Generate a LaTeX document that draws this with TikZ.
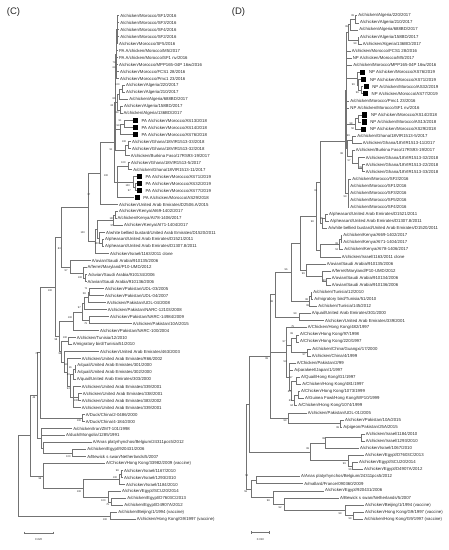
\documentclass[tikz,border=0pt]{standalone}
\usepackage{fontspec}
\setmainfont{Liberation Sans}
\newcommand\leaffont{\fontsize{4.3}{5}\selectfont}
\newcommand\bootfont{\fontsize{2.6}{3}\selectfont}
\definecolor{linec}{gray}{0.45}
\definecolor{txtc}{gray}{0.15}
\tikzset{
  br/.style={draw=linec, line width=0.45pt},
  leaf/.style={anchor=west, inner xsep=0.9pt, inner ysep=0pt, font=\leaffont, text=txtc},
  sqr/.style={fill=black, draw=none, minimum size=5.2pt, inner sep=0pt, anchor=west},
  sqtext/.style={anchor=west, inner xsep=0pt, inner ysep=0pt, font=\leaffont, text=txtc},
  boot/.style={font=\bootfont, inner sep=0pt, text=txtc},
  panel/.style={font=\fontsize{9.5}{10}\selectfont, anchor=west, inner sep=0pt, text=txtc},
  scalelab/.style={font=\fontsize{2.8}{3}\selectfont, inner sep=0pt, text=txtc},
}
\newcounter{bvc}
\newcommand\lfn[4]{\node[leaf] (#1) at (#2,#3) {#4};}
\newcommand\sqn[4]{\node[sqr] (#1) at (#2,#3) {}; \node[sqtext] (#1t) at ([xshift=3.2pt]#1.east) {#4};}
\newcommand\edg[2]{\foreach \cc in {#2}{\draw[br] (#1) |- (\cc);}}
\newcommand\bv[3]{\stepcounter{bvc}\node[boot] (bv\thebvc) at (#1,#2) {#3};}
\begin{document}
\begin{tikzpicture}[x=1pt,y=-1pt]
\useasboundingbox (0,0) rectangle (449,550);
\node[panel] (titC) at (6.7,11.7) {(C)};
\node[panel] (titD) at (231.7,11.7) {(D)};
% ================= LEFT TREE (C) =================
\begin{scope}[yshift=-15.7pt, y=-7pt]
\lfn{cL0}{119.2}{0}{A/chicken/Morocco/SF1/2016}
\lfn{cL1}{119.2}{1}{A/chicken/Morocco/SF3/2016}
\lfn{cL2}{119.2}{2}{A/chicken/Morocco/SF4/2016}
\lfn{cL3}{119.2}{3}{A/chicken/Morocco/SF2/2016}
\lfn{cL4}{118}{4}{A/chicken/Morocco/SF5/2016}
\lfn{cL5}{118}{5}{PA A/chicken/Morocco/M5/2017}
\lfn{cL6}{118}{6}{PA A/chicken/Morocco/SF1 nv/2016}
\lfn{cL7}{118}{7}{A/chicken/Morocco/MPP165-04P 16w/2016}
\lfn{cL8}{119}{8}{A/chicken/Morocco/FCS1 28/2016}
\lfn{cL9}{119}{9}{A/chicken/Morocco/Pmc1 23/2016}
\lfn{cL10}{125}{10}{A/chicken/Algeria/220/2017}
\lfn{cL11}{125}{11}{A/chicken/Algeria/210/2017}
\lfn{cL12}{128.3}{12}{A/chicken/Algeria/688BD/2017}
\lfn{cL13}{123}{13}{A/chicken/Algeria/158BD/2017}
\lfn{cL14}{122.5}{14}{A/chicken/Algeria/136BD/2017}
\sqn{cS15}{132.5}{15}{PA A/chicken/Morocco/AS13/2018}
\sqn{cS16}{132.5}{16}{PA A/chicken/Morocco/AS14/2018}
\sqn{cS17}{132.5}{17}{PA A/chicken/Morocco/AS76/2018}
\lfn{cL18}{131}{18}{A/chicken/Ghana/18VIR1513-33/2018}
\lfn{cL19}{131}{19}{A/chicken/Ghana/18VIR1513-32/2018}
\lfn{cL20}{129.7}{20}{A/chicken/Burkina Faso/17RS93-19/2017}
\lfn{cL21}{130}{21}{A/chicken/Ghana/18VIR1513-5/2017}
\lfn{cL22}{132.3}{22}{A/chicken/Ghana/18VIR1513-11/2017}
\sqn{cS23}{136.5}{23}{PA A/chicken/Morocco/AS71/2019}
\sqn{cS24}{136.5}{24}{PA A/chicken/Morocco/AS32/2019}
\sqn{cS25}{136.5}{25}{PA A/chicken/Morocco/AS77/2019}
\sqn{cS26}{134.3}{26}{PA A/chicken/Morocco/AS29/2018}
\lfn{cL27}{118}{27}{A/chicken/United Arab Emirates/D2506.A/2015}
\lfn{cL28}{118}{28}{A/chicken/Kenya/AI69-1402/2017}
\lfn{cL29}{116.5}{29}{A/chicken/Kenya/AI78-1406/2017}
\lfn{cL30}{123}{30}{A/chicken/Kenya/AI71-1404/2017}
\lfn{cL31}{105}{31}{A/white bellied bustard/United Arab Emirates/D1520/2011}
\lfn{cL32}{104}{32}{A/pheasant/United Arab Emirates/D1521/2011}
\lfn{cL33}{104}{33}{A/pheasant/United Arab Emirates/D1307.8/2011}
\lfn{cL34}{109}{34}{A/chicken/Israel/1163/2011 clone}
\lfn{cL35}{90.7}{35}{A/avian/Saudi Arabia/910135/2006}
\lfn{cL36}{86.5}{36}{A/ferret/Maryland/P10-UMD/2012}
\lfn{cL37}{87.3}{37}{A/avian/Saudi Arabia/910134/2006}
\lfn{cL38}{86.5}{38}{A/avian/Saudi Arabia/910136/2006}
\lfn{cL39}{104}{39}{A/chicken/Pakistan/UDL-03/2005}
\lfn{cL40}{104}{40}{A/chicken/Pakistan/UDL-04/2007}
\lfn{cL41}{105.7}{41}{A/chicken/Pakistan/UDL-04/2008}
\lfn{cL42}{106.7}{42}{A/chicken/Pakistan/NARC-12103/2008}
\lfn{cL43}{109}{43}{A/chicken/Pakistan/NARC-14984/2009}
\lfn{cL44}{131.7}{44}{A/chicken/Pakistan/10A/2015}
\lfn{cL45}{99}{45}{A/chicken/Pakistan/NARC-100/2004}
\lfn{cL46}{75.7}{46}{A/chicken/Tunisia/12/2010}
\lfn{cL47}{71.7}{47}{A/migratory bird/Tunisia/51/2010}
\lfn{cL48}{99}{48}{A/chicken/United Arab Emirates/463/2003}
\lfn{cL49}{80.7}{49}{A/chicken/United Arab Emirates/R66/2002}
\lfn{cL50}{76.3}{50}{A/quail/United Arab Emirates/301/2000}
\lfn{cL51}{76.3}{51}{A/quail/United Arab Emirates/302/2000}
\lfn{cL52}{75.7}{52}{A/quail/United Arab Emirates/303/2000}
\lfn{cL53}{80.7}{53}{A/chicken/United Arab Emirates/339/2001}
\lfn{cL54}{81.7}{54}{A/chicken/United Arab Emirates/338/2001}
\lfn{cL55}{80.7}{55}{A/chicken/United Arab Emirates/383/2002}
\lfn{cL56}{80.7}{56}{A/chicken/United Arab Emirates/339/2001}
\lfn{cL57}{84.7}{57}{A/Duck/China/2-0486/2000}
\lfn{cL58}{84.7}{58}{A/Duck/China/4-184/2000}
\lfn{cL59}{72.3}{59}{A/chicken/Iran/ZMT-101/1998}
\lfn{cL60}{65}{60}{A/duck/Mongolia/1285/1991}
\lfn{cL61}{91.7}{61}{A/Anas platyrhynchos/Belgium/24311pcs5/2012}
\lfn{cL62}{86.3}{62}{A/chicken/Egypt/920431/2006}
\lfn{cL63}{86.3}{63}{A/Bewick s swan/Netherlands/5/2007}
\lfn{cL64}{105}{64}{A/Chicken/Hong Kong/33982/2009 (vaccine)}
\lfn{cL65}{123}{65}{A/chicken/Israel/1167/2010}
\lfn{cL66}{123}{66}{A/chicken/Israel/1293/2010}
\lfn{cL67}{125}{67}{A/chicken/Israel/1184/2010}
\lfn{cL68}{121}{68}{A/chicken/Egypt/SCU20/2014}
\lfn{cL69}{126.3}{69}{A/chicken/Egypt/D7603C/2013}
\lfn{cL70}{123.3}{70}{A/chicken/Egypt/D4907A/2012}
\lfn{cL71}{117.3}{71}{A/chicken/Beijing/1/1994 (vaccine)}
\lfn{cL72}{135.7}{72}{A/chicken/Hong Kong/G9/1997 (vaccine)}
% internal nodes
\coordinate (cm1) at (117.2,2);
\coordinate (cm0) at (116,5.5);
\coordinate (ca1) at (122,10.5);
\coordinate (ca2) at (119.5,11.25);
\coordinate (ca3) at (120,13.5);
\coordinate (ca4) at (117,12.375);
\coordinate (cp1) at (124,15.5);
\coordinate (cp2) at (120.5,16.25);
\coordinate (cg1) at (128.3,18.5);
\coordinate (cg2) at (125,19.25);
\coordinate (cU1) at (115.5,12.375);
\coordinate (cg3) at (128.3,21.5);
\coordinate (cq1) at (135.5,24.5);
\coordinate (cq2) at (133,23.75);
\coordinate (cU2) at (117.3,23.75);
\coordinate (cU) at (114.5,18.0625);
\coordinate (cV) at (100,22.53);
\coordinate (ck1) at (115,28.5);
\coordinate (ck2) at (113.5,29.25);
\coordinate (ce1) at (102,32.5);
\coordinate (ce2) at (99,31.75);
\coordinate (cKE) at (97,30.5);
\coordinate (cKEI) at (95,32.25);
\coordinate (cW) at (88,27.39);
\coordinate (cs0) at (85,37.5);
\coordinate (cs1) at (83.3,36.75);
\coordinate (cs2) at (70,35.875);
\coordinate (cN83) at (61,31.63);
\coordinate (cpk1) at (89.5,39.5);
\coordinate (cpk2) at (88,40.25);
\coordinate (cpk3) at (84,41.125);
\coordinate (cpk4) at (89,43.5);
\coordinate (cpk5) at (82,42.31);
\coordinate (cP) at (73,43.66);
\coordinate (ctn) at (68.5,46.5);
\coordinate (cu1) at (75,50.5);
\coordinate (cu2) at (73.5,51.25);
\coordinate (cu3) at (78.5,54.5);
\coordinate (cu4) at (73,54.5);
\coordinate (cu5) at (70.5,52.875);
\coordinate (cu6) at (67.5,50.94);
\coordinate (cu7) at (64,49.47);
\coordinate (cTU) at (61.5,47.98);
\coordinate (cZ) at (59.5,45.82);
\coordinate (cN100) at (55,38.73);
\coordinate (cdc) at (82,57.5);
\coordinate (cN72) at (40.7,48.11);
\coordinate (cbw) at (72,62.5);
\coordinate (cag) at (43.3,61.75);
\coordinate (cLg) at (41.7,60.375);
\coordinate (cN46) at (37,54.24);
\coordinate (cis1) at (121.5,65.5);
\coordinate (cis2) at (119,66.25);
\coordinate (ceg1) at (111,69.5);
\coordinate (ceg2) at (108,68.75);
\coordinate (cIE) at (83,67.5);
\coordinate (cNIE) at (43,65.75);
\coordinate (cN1) at (30.7,60);
\coordinate (cBH) at (110,71.5);
\coordinate (cR) at (18.3,65.75);
\end{scope}
\edg{cm1}{cL0.west,cL1.west,cL2.west,cL3.west,cL4.west}
\edg{cm0}{cm1,cL5.west,cL6.west,cL7.west,cL8.west,cL9.west}
\edg{ca1}{cL10.west,cL11.west}
\edg{ca2}{ca1,cL12.west}
\edg{ca3}{cL13.west,cL14.west}
\edg{ca4}{ca2,ca3}
\edg{cp1}{cS15.west,cS16.west}
\edg{cp2}{cp1,cS17.west}
\edg{cg1}{cL18.west,cL19.west}
\edg{cg2}{cg1,cL20.west}
\edg{cU1}{cm0,ca4,cp2,cg2}
\edg{cg3}{cL21.west,cL22.west}
\edg{cq1}{cS24.west,cS25.west}
\edg{cq2}{cS23.west,cq1}
\edg{cU2}{cg3,cq2,cS26.west}
\edg{cU}{cU1,cU2}
\edg{cV}{cU,cL27.west}
\edg{ck1}{cL28.west,cL29.west}
\edg{ck2}{ck1,cL30.west}
\edg{ce1}{cL32.west,cL33.west}
\edg{ce2}{cL31.west,ce1}
\edg{cKE}{ck2,ce2}
\edg{cKEI}{cKE,cL34.west}
\edg{cW}{cV,cKEI}
\edg{cs0}{cL37.west,cL38.west}
\edg{cs1}{cL36.west,cs0}
\edg{cs2}{cL35.west,cs1}
\edg{cN83}{cW,cs2}
\edg{cpk1}{cL39.west,cL40.west}
\edg{cpk2}{cpk1,cL41.west}
\edg{cpk3}{cpk2,cL42.west}
\edg{cpk4}{cL43.west,cL44.west}
\edg{cpk5}{cpk3,cpk4}
\edg{cP}{cpk5,cL45.west}
\edg{ctn}{cL46.west,cL47.west}
\edg{cu1}{cL50.west,cL51.west}
\edg{cu2}{cu1,cL52.west}
\edg{cu3}{cL54.west,cL55.west}
\edg{cu4}{cL53.west,cu3,cL56.west}
\edg{cu5}{cu2,cu4}
\edg{cu6}{cL49.west,cu5}
\edg{cu7}{cL48.west,cu6}
\edg{cTU}{ctn,cu7}
\edg{cZ}{cP,cTU}
\edg{cN100}{cN83,cZ}
\edg{cdc}{cL57.west,cL58.west}
\edg{cN72}{cN100,cdc}
\edg{cbw}{cL62.west,cL63.west}
\edg{cag}{cL61.west,cbw}
\edg{cLg}{cL59.west,cL60.west,cag}
\edg{cN46}{cN72,cLg}
\edg{cis1}{cL65.west,cL66.west}
\edg{cis2}{cis1,cL67.west}
\edg{ceg1}{cL69.west,cL70.west}
\edg{ceg2}{cL68.west,ceg1}
\edg{cIE}{cis2,ceg2}
\edg{cNIE}{cL64.west,cIE}
\edg{cN1}{cN46,cNIE}
\edg{cBH}{cL71.west,cL72.west}
\edg{cR}{cN1,cBH}
% bootstrap (C)
\bv{114}{63}{74}
\bv{114}{68}{64}
\bv{117.3}{85}{100}
\bv{114}{99}{86}
\bv{112}{106}{62}
\bv{117}{113}{99}
\bv{120}{121}{91}
\bv{118}{125.7}{99}
\bv{124}{142}{100}
\bv{111}{150}{91}
\bv{123.3}{162.7}{100}
\bv{106}{176}{100}
\bv{127.7}{185.3}{100}
\bv{129.3}{190.7}{97}
\bv{89}{195}{97}
\bv{111.7}{218.7}{100}
\bv{112}{225.7}{97}
\bv{82.7}{232.3}{100}
\bv{96.7}{243.3}{100}
\bv{59.3}{248.7}{83}
\bv{66}{271}{97}
\bv{80}{277.7}{100}
\bv{86}{288.3}{71}
\bv{50}{290.7}{100}
\bv{84.3}{294}{58}
\bv{79.3}{307.3}{97}
\bv{70}{317.7}{100}
\bv{85.7}{323.7}{79}
\bv{65}{337.7}{100}
\bv{56}{340}{98}
\bv{36.7}{353.3}{72}
\bv{60}{354}{96}
\bv{66}{364.7}{99}
\bv{70.5}{367.5}{81}
\bv{68.3}{375}{69}
\bv{68.3}{388.7}{94}
\bv{34}{397.3}{46}
\bv{76}{400.7}{100}
\bv{79}{420.7}{100}
\bv{68.3}{456.3}{100}
\bv{117.3}{471}{98}
\bv{115}{477.3}{100}
\bv{40}{479}{98}
\bv{79}{491.7}{100}
\bv{103.3}{500.3}{100}
\bv{107.7}{505}{75}
\bv{105}{519.3}{100}
% scale (C)
\coordinate (csa) at (24,533);
\coordinate (csb) at (53.3,533);
\draw[br] (csa) -- (csb);
\draw[br] ([yshift=1.3pt]csa) -- ([yshift=-1.3pt]csa);
\draw[br] ([yshift=1.3pt]csb) -- ([yshift=-1.3pt]csb);
\node[scalelab] (csl) at (38.7,540) {0.020};
% ================= RIGHT TREE (D) =================
\begin{scope}[yshift=-15.7pt, y=-7.09pt]
\lfn{dL0}{357.3}{0}{A/chicken/Algeria/220/2017}
\lfn{dL1}{359}{1}{A/chicken/Algeria/210/2017}
\lfn{dL2}{358.3}{2}{A/chicken/Algeria/688BD/2017}
\lfn{dL3}{359}{3}{A/chicken/Algeria/158BD/2017}
\lfn{dL4}{361.7}{4}{A/chicken/Algeria/136BD/2017}
\lfn{dL5}{350.7}{5}{A/chicken/Morocco/FCS1 28/2016}
\lfn{dL6}{351.7}{6}{NP A/chicken/Morocco/M5/2017}
\lfn{dL7}{352.3}{7}{A/chicken/Morocco/MPP165-04P 16w/2016}
\sqn{dS8}{360}{8}{NP A/chicken/Morocco/AS76/2019}
\sqn{dS9}{361}{9}{NP A/chicken/Morocco/AS71/2019}
\sqn{dS10}{363.3}{10}{NP A/chicken/Morocco/AS32/2019}
\sqn{dS11}{362.7}{11}{NP A/chicken/Morocco/AS77/2019}
\lfn{dL12}{349.3}{12}{A/chicken/Morocco/Pmc1 23/2016}
\lfn{dL13}{349.3}{13}{NP A/chicken/Morocco/SF1 nv/2016}
\sqn{dS14}{362}{14}{NP A/chicken/Morocco/AS14/2018}
\sqn{dS15}{361.3}{15}{NP A/chicken/Morocco/AS13/2018}
\sqn{dS16}{361}{16}{NP A/chicken/Morocco/AS29/2018}
\lfn{dL17}{356.3}{17}{A/chicken/Ghana/18VIR1513-5/2017}
\lfn{dL18}{361.7}{18}{A/chicken/Ghana/18VIR1513-11/2017}
\lfn{dL19}{354.7}{19}{A/chicken/Burkina Faso/17RS93-19/2017}
\lfn{dL20}{364.7}{20}{A/chicken/Ghana/18VIR1513-32/2018}
\lfn{dL21}{364.7}{21}{A/chicken/Ghana/18VIR1513-22/2018}
\lfn{dL22}{364.7}{22}{A/chicken/Ghana/18VIR1513-33/2018}
\lfn{dL23}{351.3}{23}{A/chicken/Morocco/SF2/2016}
\lfn{dL24}{349.3}{24}{A/chicken/Morocco/SF1/2016}
\lfn{dL25}{349.3}{25}{A/chicken/Morocco/SF3/2016}
\lfn{dL26}{349.3}{26}{A/chicken/Morocco/SF5/2016}
\lfn{dL27}{349.3}{27}{A/chicken/Morocco/SF4/2016}
\lfn{dL28}{328}{28}{A/pheasant/United Arab Emirates/D1521/2011}
\lfn{dL29}{329}{29}{A/pheasant/United Arab Emirates/D1307.8/2011}
\lfn{dL30}{327.3}{30}{A/white bellied bustard/United Arab Emirates/D1520/2011}
\lfn{dL31}{342.3}{31}{A/chicken/Kenya/AI69-1402/2017}
\lfn{dL32}{342.3}{32}{A/chicken/Kenya/AI71-1404/2017}
\lfn{dL33}{343.3}{33}{A/chicken/Kenya/AI78-1406/2017}
\lfn{dL34}{340.7}{34}{A/chicken/Israel/1163/2011 clone}
\lfn{dL35}{325.7}{35}{A/avian/Saudi Arabia/910135/2006}
\lfn{dL36}{330.7}{36}{A/ferret/Maryland/P10-UMD/2012}
\lfn{dL37}{330.7}{37}{A/avian/Saudi Arabia/910134/2006}
\lfn{dL38}{330.7}{38}{A/avian/Saudi Arabia/910136/2006}
\lfn{dL39}{312.3}{39}{A/chicken/Tunisia/12/2010}
\lfn{dL40}{313.3}{40}{A/migratory bird/Tunisia/51/2010}
\lfn{dL41}{317.3}{41}{A/chicken/Tunisia/145/2012}
\lfn{dL42}{310.7}{42}{A/quail/United Arab Emirates/301/2000}
\lfn{dL43}{324}{43}{A/chicken/United Arab Emirates/339/2001}
\lfn{dL44}{306.7}{44}{A/Chicken/Hong Kong/482/1997}
\lfn{dL45}{299}{45}{A/Chicken/Hong Kong/97/1998}
\lfn{dL46}{299}{46}{A/Chicken/Hong Kong/220/1997}
\lfn{dL47}{311.3}{47}{A/chicken/China/Guangxi/17/2000}
\lfn{dL48}{310.7}{48}{A/chicken/China/4/1999}
\lfn{dL49}{295.7}{49}{A/Chicken/Pakistan/2/99}
\lfn{dL50}{293.3}{50}{A/parakeet/Japan/1/1997}
\lfn{dL51}{300}{51}{A/Quail/Hong Kong/G1/1997}
\lfn{dL52}{301.3}{52}{A/Chicken/Hong Kong/481/1997}
\lfn{dL53}{300}{53}{A/Chicken/Hong Kong/1073/1999}
\lfn{dL54}{304}{54}{A/Guinea Fowl/Hong Kong/WF10/1999}
\lfn{dL55}{297.3}{55}{A/Chicken/Hong Kong/1074/1999}
\lfn{dL56}{306.7}{56}{A/chicken/Pakistan/UDL-01/2005}
\lfn{dL57}{344}{57}{A/chicken/Pakistan/10A/2015}
\lfn{dL58}{342.3}{58}{A/pigeon/Pakistan/25A/2015}
\lfn{dL59}{364.7}{59}{A/chicken/Israel/1184/2010}
\lfn{dL60}{364.7}{60}{A/chicken/Israel/1293/2010}
\lfn{dL61}{359}{61}{A/chicken/Israel/1067/2010}
\lfn{dL62}{364}{62}{A/chicken/Egypt/D7603C/2013}
\lfn{dL63}{358}{63}{A/chicken/Egypt/SCU20/2014}
\lfn{dL64}{363}{64}{A/chicken/Egypt/D4907A/2012}
\lfn{dL65}{300}{65}{A/Anas platyrhynchos/Belgium/24311pcs5/2012}
\lfn{dL66}{303.3}{66}{A/mallard/France/090360/2009}
\lfn{dL67}{324}{67}{A/chicken/Egypt/920431/2006}
\lfn{dL68}{339}{68}{A/Bewick s swan/Netherlands/5/2007}
\lfn{dL69}{364}{69}{A/chicken/Beijing/1/1994 (vaccine)}
\lfn{dL70}{364}{70}{A/chicken/Hong Kong/G9/1997 (vaccine)}
\lfn{dL71}{363.3}{71}{A/chicken/Hong Kong/G9/1997 (vaccine)}
% internal nodes
\coordinate (dal1) at (355,0.5);
\coordinate (dal2) at (350,1.25);
\coordinate (dal3) at (358,3.5);
\coordinate (dal4) at (348,2.375);
\coordinate (das1) at (361.5,10.5);
\coordinate (das2) at (358.5,9.75);
\coordinate (das3) at (357,8.875);
\coordinate (db1) at (358,14.5);
\coordinate (db2) at (355,15.25);
\coordinate (dgh1) at (352,17.5);
\coordinate (dgh2) at (362,21.5);
\coordinate (dgh3) at (358,20.75);
\coordinate (dgh4) at (352.5,19.875);
\coordinate (dGh) at (347.5,18.6875);
\coordinate (dA1) at (346.7,10.53);
\coordinate (dsf) at (348,25);
\coordinate (dA) at (345,17.766);
\coordinate (dph) at (325,28.5);
\coordinate (dph2) at (322,29.25);
\coordinate (dN91) at (320.5,23.508);
\coordinate (dke1) at (341,31.5);
\coordinate (dke2) at (339.5,32.25);
\coordinate (dkei) at (320,33.125);
\coordinate (dN98) at (316,28.316);
\coordinate (dsa1) at (326.7,37.5);
\coordinate (dsa2) at (322,36.75);
\coordinate (dsa3) at (306.7,35.875);
\coordinate (dNtop) at (300,32.096);
\coordinate (dtu1) at (311,39.5);
\coordinate (dtu2) at (309,40.25);
\coordinate (dN96) at (291.7,36.173);
\coordinate (dqu) at (299,42.5);
\coordinate (dN98b) at (275,39.34);
\coordinate (dhk1) at (296.7,45.5);
\coordinate (dgx) at (307.7,47.5);
\coordinate (dhA) at (291.7,46.5);
\coordinate (dqg) at (296.7,51.5);
\coordinate (dh3) at (298,53.5);
\coordinate (dh4) at (294,54.25);
\coordinate (dhC) at (291.5,52.875);
\coordinate (dhD) at (289.5,50.94);
\coordinate (dHK) at (286.7,47.47);
\coordinate (dpp) at (340,57.5);
\coordinate (dP2) at (288.3,56.75);
\coordinate (dT) at (270,48.045);
\coordinate (di1) at (361.7,59.5);
\coordinate (di2) at (325,60.25);
\coordinate (de1) at (352,63.5);
\coordinate (de2) at (348,62.75);
\coordinate (dIE) at (310,61.5);
\coordinate (dRT) at (249.5,54.77);
\coordinate (dAM) at (256.7,65.5);
\coordinate (dv1) at (353.3,70.5);
\coordinate (dv2) at (345,69.75);
\coordinate (dB2) at (284.3,68.875);
\coordinate (dB3) at (273.3,67.94);
\coordinate (dB4) at (251.7,66.72);
\coordinate (dR) at (246.7,60.745);
\end{scope}
\edg{dal1}{dL0.west,dL1.west}
\edg{dal2}{dal1,dL2.west}
\edg{dal3}{dL3.west,dL4.west}
\edg{dal4}{dal2,dal3}
\edg{das1}{dS10.west,dS11.west}
\edg{das2}{dS9.west,das1}
\edg{das3}{dS8.west,das2}
\edg{db1}{dS14.west,dS15.west}
\edg{db2}{db1,dS16.west}
\edg{dgh1}{dL17.west,dL18.west}
\edg{dgh2}{dL21.west,dL22.west}
\edg{dgh3}{dL20.west,dgh2}
\edg{dgh4}{dL19.west,dgh3}
\edg{dGh}{dgh1,dgh4}
\edg{dA1}{dal4,dL5.west,dL6.west,dL7.west,das3,dL12.west,dL13.west,db2,dGh}
\edg{dsf}{dL23.west,dL24.west,dL25.west,dL26.west,dL27.west}
\edg{dA}{dA1,dsf}
\edg{dph}{dL28.west,dL29.west}
\edg{dph2}{dph,dL30.west}
\edg{dN91}{dA,dph2}
\edg{dke1}{dL31.west,dL32.west}
\edg{dke2}{dke1,dL33.west}
\edg{dkei}{dke2,dL34.west}
\edg{dN98}{dN91,dkei}
\edg{dsa1}{dL37.west,dL38.west}
\edg{dsa2}{dL36.west,dsa1}
\edg{dsa3}{dL35.west,dsa2}
\edg{dNtop}{dN98,dsa3}
\edg{dtu1}{dL39.west,dL40.west}
\edg{dtu2}{dtu1,dL41.west}
\edg{dN96}{dNtop,dtu2}
\edg{dqu}{dL42.west,dL43.west}
\edg{dN98b}{dN96,dqu}
\edg{dhk1}{dL45.west,dL46.west}
\edg{dgx}{dL47.west,dL48.west}
\edg{dhA}{dhk1,dgx}
\edg{dqg}{dL51.west,dL52.west}
\edg{dh3}{dL53.west,dL54.west}
\edg{dh4}{dh3,dL55.west}
\edg{dhC}{dqg,dh4}
\edg{dhD}{dL49.west,dL50.west,dhC}
\edg{dHK}{dL44.west,dhA,dhD}
\edg{dpp}{dL57.west,dL58.west}
\edg{dP2}{dL56.west,dpp}
\edg{dT}{dN98b,dHK,dP2}
\edg{di1}{dL59.west,dL60.west}
\edg{di2}{di1,dL61.west}
\edg{de1}{dL63.west,dL64.west}
\edg{de2}{dL62.west,de1}
\edg{dIE}{di2,de2}
\edg{dRT}{dT,dIE}
\edg{dAM}{dL65.west,dL66.west}
\edg{dv1}{dL70.west,dL71.west}
\edg{dv2}{dL69.west,dv1}
\edg{dB2}{dL68.west,dv2}
\edg{dB3}{dL67.west,dB2}
\edg{dB4}{dAM,dB3}
\edg{dR}{dRT,dB4}
% bootstrap (D)
\bv{352.7}{15.7}{99}
\bv{346.7}{26.7}{65}
\bv{355}{43.3}{99}
\bv{353.3}{85}{99}
\bv{357.3}{92.3}{96}
\bv{351}{124}{98}
\bv{352.7}{128.3}{50}
\bv{348.3}{136}{99}
\bv{341.7}{153.3}{98}
\bv{349}{161}{57}
\bv{360.7}{168}{99}
\bv{315.7}{190.7}{91}
\bv{345}{196.7}{99}
\bv{321.7}{218.3}{99}
\bv{312.3}{222}{98}
\bv{336.7}{243.3}{99}
\bv{336.7}{249.3}{53}
\bv{286}{269.3}{96}
\bv{303.3}{273.3}{99}
\bv{324.3}{281}{99}
\bv{271.7}{301.7}{98}
\bv{306.7}{300}{98}
\bv{307.7}{305.3}{99}
\bv{295}{313.3}{99}
\bv{292.7}{326.7}{75}
\bv{291.7}{333.3}{99}
\bv{284}{342}{97}
\bv{304}{355}{97}
\bv{266.7}{358.3}{99}
\bv{285}{361.7}{53}
\bv{291}{377.7}{97}
\bv{289.3}{392}{63}
\bv{290.3}{400.7}{61}
\bv{291.7}{406}{64}
\bv{285}{420.7}{99}
\bv{337.7}{427.3}{99}
\bv{323.7}{438.3}{99}
\bv{307.7}{449}{99}
\bv{344.3}{464}{99}
\bv{350}{469.3}{96}
\bv{246.7}{475.7}{54}
\bv{245.7}{491.7}{59}
\bv{268.3}{500.7}{98}
\bv{280}{507.7}{92}
\bv{340}{513.3}{99}
\bv{350}{519}{99}
% scale (D)
\coordinate (dsa) at (251.7,532.7);
\coordinate (dsb) at (269.3,532.7);
\draw[br] (dsa) -- (dsb);
\draw[br] ([yshift=1.3pt]dsa) -- ([yshift=-1.3pt]dsa);
\draw[br] ([yshift=1.3pt]dsb) -- ([yshift=-1.3pt]dsb);
\node[scalelab] (dsl) at (260.5,540) {0.010};
\end{tikzpicture}
\end{document}
